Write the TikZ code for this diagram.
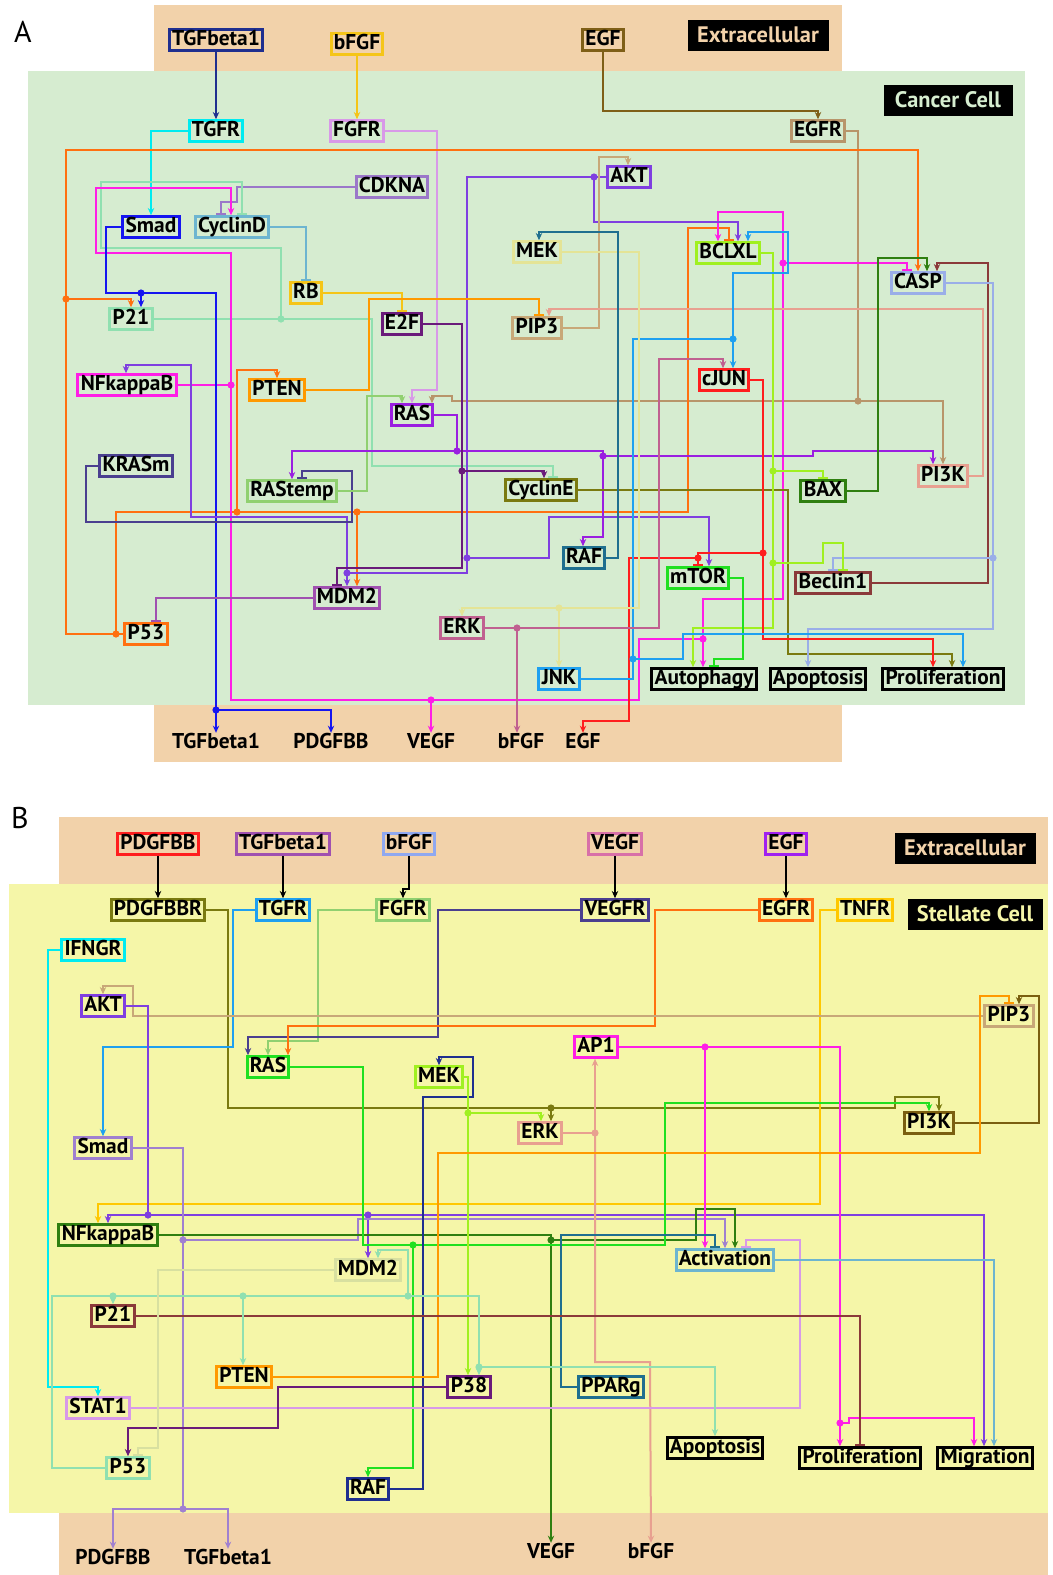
\documentclass[tikz,border=0pt]{standalone}
\usepackage{fontspec}
\setmainfont{PT Sans}
\usetikzlibrary{arrows.meta}
% backgrounds
\definecolor{cpeach}{RGB}{242,210,170}
\definecolor{cgreenbg}{RGB}{214,236,208}
\definecolor{cyellowbg}{RGB}{245,246,168}
\definecolor{cgreentxt}{RGB}{214,237,208}
% node / edge colours
\definecolor{cdkblue}{RGB}{31,47,143}
\definecolor{cgold}{RGB}{245,197,24}
\definecolor{cbrown}{RGB}{127,95,23}
\definecolor{ccyan}{RGB}{0,235,240}
\definecolor{clilac}{RGB}{216,153,232}
\definecolor{ctan}{RGB}{184,149,106}
\definecolor{ckna}{RGB}{155,119,201}
\definecolor{cblue}{RGB}{21,21,240}
\definecolor{csteel}{RGB}{109,181,208}
\definecolor{cviolet}{RGB}{127,63,224}
\definecolor{cpale}{RGB}{228,228,150}
\definecolor{clime}{RGB}{160,240,32}
\definecolor{cmint}{RGB}{144,224,176}
\definecolor{cplum}{RGB}{106,27,122}
\definecolor{cpip}{RGB}{200,168,120}
\definecolor{ccasp}{RGB}{154,174,232}
\definecolor{cred}{RGB}{255,30,30}
\definecolor{cmag}{RGB}{255,30,230}
\definecolor{corange}{RGB}{255,153,0}
\definecolor{cras}{RGB}{154,31,224}
\definecolor{cslate}{RGB}{74,63,143}
\definecolor{clgreen}{RGB}{144,208,112}
\definecolor{colive}{RGB}{122,122,16}
\definecolor{cgreen}{RGB}{47,127,16}
\definecolor{csalmon}{RGB}{232,160,144}
\definecolor{cteal}{RGB}{31,111,143}
\definecolor{cneon}{RGB}{32,224,32}
\definecolor{cbeclin}{RGB}{139,58,58}
\definecolor{cmdm}{RGB}{160,80,176}
\definecolor{cerk}{RGB}{192,96,144}
\definecolor{cp53}{RGB}{255,112,16}
\definecolor{csky}{RGB}{30,160,240}
\definecolor{cbfgf}{RGB}{143,168,240}
\definecolor{cvegf}{RGB}{216,112,168}
\definecolor{cegf}{RGB}{160,32,240}
\definecolor{ctnfr}{RGB}{255,200,0}
\definecolor{cpi3k}{RGB}{122,95,16}
\definecolor{csmad}{RGB}{160,128,208}
\definecolor{cmdmb}{RGB}{216,224,160}
\newcommand{\genefont}{\fontsize{10.7}{12}\selectfont\bfseries}
\newcommand{\zonefont}{\fontsize{11.2}{13}\selectfont\bfseries}
\newcommand{\jdot}[2]{\fill[#1] (#2) circle (1.8pt);}
\tikzset{
  gene/.style={draw, line width=1.5pt, font=\genefont, inner xsep=1.4pt,
    inner ysep=0.2pt, text height=7.8pt, text depth=2.1pt},
  outbox/.style={gene, draw=black},
  outtext/.style={font=\genefont, inner sep=0pt},
  zone/.style={fill=black, font=\zonefont, minimum height=15.5pt, inner xsep=0pt},
  panel/.style={font=\fontsize{15}{17}\selectfont, inner sep=0pt},
  act/.style={-{Stealth[length=3.6pt,width=3.2pt]}, line width=1pt},
  inh/.style={-{Bar[width=5pt]}, line width=1pt},
  ln/.style={line width=1pt}
}

\begin{document}
\begin{tikzpicture}[x=0.5pt, y=-0.5pt]
  \useasboundingbox (0,0) rectangle (1053,1575);
  % ================= panel A =================
  \fill[cpeach] (154,5) rectangle (842,71);
  \fill[cpeach] (154,705) rectangle (842,762);
  \fill[cgreenbg] (28,71) rectangle (1025,705);
  \node[panel] (lblA) at (23,32) {A};
  \node[zone, text=cpeach, minimum width=70.5pt] (aExtra) at (758,35) {Extracellular};
  \node[zone, text=cgreentxt, minimum width=64.5pt] (aCell) at (948,100) {Cancer Cell};
  % genes
  \node[gene, draw=cdkblue] (aTGFb) at (216,40) {TGFbeta1};
  \node[gene, draw=cgold] (abFGF) at (357,44) {bFGF};
  \node[gene, draw=cbrown] (aEGF) at (603,40) {EGF};
  \node[gene, draw=ccyan] (aTGFR) at (216,131) {TGFR};
  \node[gene, draw=clilac] (aFGFR) at (357,131) {FGFR};
  \node[gene, draw=ctan] (aEGFR) at (818,131) {EGFR};
  \node[gene, draw=ckna] (aCDKNA) at (392,187) {CDKNA};
  \node[gene, draw=cblue] (aSmad) at (151,227) {Smad};
  \node[gene, draw=csteel] (aCycD) at (232,227) {CyclinD};
  \node[gene, draw=cviolet] (aAKT) at (629,177) {AKT};
  \node[gene, draw=cpale] (aMEK) at (537,252) {MEK};
  \node[gene, draw=clime] (aBCLXL) at (728,253) {BCLXL};
  \node[gene, draw=cgold] (aRB) at (306,293) {RB};
  \node[gene, draw=cmint] (aP21) at (131,319) {P21};
  \node[gene, draw=cplum] (aE2F) at (402,324) {E2F};
  \node[gene, draw=cpip] (aPIP3) at (537,328) {PIP3};
  \node[gene, draw=ccasp] (aCASP) at (918,283) {CASP};
  \node[gene, draw=cred] (acJUN) at (724,380) {cJUN};
  \node[gene, draw=cmag] (aNFkB) at (127,385) {NFkappaB};
  \node[gene, draw=corange] (aPTEN) at (277,390) {PTEN};
  \node[gene, draw=cras] (aRAS) at (412,415) {RAS};
  \node[gene, draw=cslate] (aKRASm) at (136,466) {KRASm};
  \node[gene, draw=clgreen] (aRAStemp) at (292,491) {RAStemp};
  \node[gene, draw=colive] (aCycE) at (541,490) {CyclinE};
  \node[gene, draw=cgreen] (aBAX) at (823,491) {BAX};
  \node[gene, draw=csalmon] (aPI3K) at (943,476) {PI3K};
  \node[gene, draw=cteal] (aRAF) at (584,558) {RAF};
  \node[gene, draw=cneon] (amTOR) at (698,578) {mTOR};
  \node[gene, draw=cbeclin] (aBeclin) at (833,583) {Beclin1};
  \node[gene, draw=cmdm] (aMDM2) at (347,598) {MDM2};
  \node[gene, draw=cerk] (aERK) at (462,628) {ERK};
  \node[gene, draw=cp53] (aP53) at (146,634) {P53};
  \node[gene, draw=csky] (aJNK) at (559,679) {JNK};
  \node[outbox] (aAuto) at (704,679) {Autophagy};
  \node[outbox] (aApop) at (818,679) {Apoptosis};
  \node[outbox] (aProl) at (943,679) {Proliferation};
  % secreted
  \node[outtext] (aoTGFb) at (216,741) {TGFbeta1};
  \node[outtext] (aoPDGF) at (331,741) {PDGFBB};
  \node[outtext] (aoVEGF) at (431,741) {VEGF};
  \node[outtext] (aobFGF) at (521,741) {bFGF};
  \node[outtext] (aoEGF) at (583,741) {EGF};
  % ligands to receptors
  \draw[act, cdkblue] (aTGFb.south) -- (aTGFR.north);
  \draw[act, cgold] (abFGF.south) -- (aFGFR.north);
  \draw[act, cbrown] (aEGF.south) |- (818,111) -- (aEGFR.north);
  \draw[act, ccyan] (aTGFR.west) -| (aSmad.north);
  \draw[act, clilac] (aFGFR.east) -| (437,390) -| (412,0 |- aRAS.north);
  \draw[act, ctan] (aEGFR.east) -| (858,401) -| (aPI3K.north);
  \draw[act, ctan] (858,401) -- (452,401) -- (452,396) -| (432,0 |- aRAS.north);
  \jdot{ctan}{858,401}
  % P53
  \draw[act, cp53] (aP53.west) -| (66,150) -| (918,0 |- aCASP.north);
  \draw[act, cp53] (66,299) -| (131,0 |- aP21.north);
  \jdot{cp53}{66,299}
  \draw[inh, cp53] (116,634) |- (688,512) |- (729,228) -- (729,0 |- aBCLXL.north);
  \jdot{cp53}{116,634}
  \draw[act, cp53] (237,512) |- (277,370) -- (aPTEN.north);
  \jdot{cp53}{237,512}
  \draw[act, cp53] (357,512) -- (357,0 |- aMDM2.north);
  \jdot{cp53}{357,512}
  % cell cycle
  \draw[inh, ckna] (aCDKNA.west) -| (237,202) -| (221,0 |- aCycD.north);
  \draw[inh, cmint] (aP21.east) -| (372,466) -| (553,0 |- aCycE.north);
  \draw[inh, cmint] (281,319) |- (101,248) |- (242,182) -- (242,0 |- aCycD.north);
  \jdot{cmint}{281,319}
  \draw[inh, csteel] (aCycD.east) -| (aRB.north);
  \draw[inh, cgold] (aRB.east) -| (aE2F.north);
  % NFkappaB
  \draw[act, cmag] (aNFkB.east) -| (231,253) -| (96,188) -| (231,0 |- aCycD.north);
  \jdot{cmag}{231,385}
  \draw[ln, cmag] (231,385) |- (639,700) |- (703,639);
  \draw[act, cmag] (431,700) -- (aoVEGF.north);
  \jdot{cmag}{431,700}
  \draw[act, cmag] (703,639) -- (703,0 |- aAuto.north);
  \jdot{cmag}{703,639}
  \draw[ln, cmag] (703,639) |- (783,599) -- (783,263);
  \jdot{cmag}{783,263}
  \draw[inh, cmag] (783,263) -| (907,0 |- aCASP.north);
  \draw[act, cmag] (783,263) |- (718,212) -- (718,0 |- aBCLXL.north);
  % Smad
  \draw[act, cblue] (aSmad.west) -| (106,293) -| (141,0 |- aP21.north);
  \jdot{cblue}{141,293}
  \draw[act, cblue] (141,293) -| (216,710) -- (aoTGFb.north);
  \jdot{cblue}{216,710}
  \draw[act, cblue] (216,710) -| (aoPDGF.north);
  % AKT
  \draw[ln, cviolet] (aAKT.west) -| (467,558);
  \jdot{cviolet}{594,177}
  \draw[act, cviolet] (594,177) |- (738,222) -- (738,0 |- aBCLXL.north);
  \jdot{cviolet}{467,558}
  \draw[act, cviolet] (467,558) -| (549,517) -| (709,0 |- amTOR.north);
  \draw[ln, cviolet] (467,558) |- (347,573);
  \jdot{cviolet}{347,573}
  \draw[act, cviolet] (347,573) -- (347,0 |- aMDM2.north);
  \draw[act, cviolet] (347,573) |- (191,517) |- (126,365) -- (126,0 |- aNFkB.north);
  % RAS module
  \draw[inh, cslate] (aKRASm.west) -| (86,522) -| (352,471) -| (302,0 |- aRAStemp.north);
  \draw[act, clgreen] (aRAStemp.east) -| (367,396) -| (402,0 |- aRAS.north);
  \draw[inh, corange] (aPTEN.east) -| (369,299) -| (539,0 |- aPIP3.north);
  \draw[act, cpip] (aPIP3.east) -| (599,157) -| (628,0 |- aAKT.north);
  \draw[act, csalmon] (aPI3K.east) -| (983,309) -| (549,0 |- aPIP3.north);
  \draw[ln, cras] (aRAS.east) -| (457,451);
  \jdot{cras}{457,451}
  \draw[act, cras] (457,451) -| (292,0 |- aRAStemp.north);
  \draw[ln, cras] (457,451) -| (603,456);
  \jdot{cras}{603,456}
  \draw[act, cras] (603,456) -| (813,451) -| (933,0 |- aPI3K.north);
  \draw[act, cras] (603,456) |- (583,537) -- (583,0 |- aRAF.north);
  % E2F
  \draw[ln, cplum] (aE2F.east) -| (462,471);
  \jdot{cplum}{462,471}
  \draw[act, cplum] (462,471) -| (544,0 |- aCycE.north);
  \draw[inh, cplum] (462,471) |- (337,568) -- (337,0 |- aMDM2.north);
  \draw[inh, cmdm] (aMDM2.west) -| (156,0 |- aP53.north);
  \draw[act, colive] (aCycE.east) -| (788,654) -| (952,0 |- aProl.north);
  % apoptosis module
  \draw[act, cgreen] (aBAX.east) -| (878,258) -| (927,0 |- aCASP.north);
  \draw[act, cbeclin] (aBeclin.east) -| (988,263) -| (937,0 |- aCASP.north);
  \draw[ln, ccasp] (aCASP.east) -| (993,558);
  \jdot{ccasp}{993,558}
  \draw[inh, ccasp] (993,558) -| (833,0 |- aBeclin.north);
  \draw[act, ccasp] (993,558) |- (808,629) -- (808,0 |- aApop.north);
  \draw[ln, clime] (aBCLXL.east) -| (773,563);
  \jdot{clime}{773,471}
  \draw[inh, clime] (773,471) -| (823,0 |- aBAX.north);
  \jdot{clime}{773,563}
  \draw[inh, clime] (773,563) -| (823,543) -| (843,0 |- aBeclin.north);
  \draw[act, clime] (773,563) |- (693,628) -- (693,0 |- aAuto.north);
  \draw[inh, cneon] (amTOR.east) -| (743,659) -| (714,0 |- aAuto.north);
  % cJUN
  \draw[ln, cred] (acJUN.east) -| (763,553);
  \jdot{cred}{763,553}
  \draw[ln, cred] (763,553) -| (698,558);
  \jdot{cred}{698,558}
  \draw[inh, cred] (698,558) -- (698,0 |- amTOR.north);
  \draw[act, cred] (698,558) -| (629,721) -| (aoEGF.north);
  \draw[act, cred] (763,553) |- (933,639) -- (933,0 |- aProl.north);
  % JNK
  \draw[ln, csky] (aJNK.east) -| (633,659);
  \jdot{csky}{633,659}
  \draw[act, csky] (633,659) -| (683,634) -| (963,0 |- aProl.north);
  \draw[ln, csky] (633,659) |- (733,339);
  \jdot{csky}{733,339}
  \draw[act, csky] (733,339) -- (733,0 |- acJUN.north);
  \draw[act, csky] (733,339) |- (788,273) |- (748,232) -- (748,0 |- aBCLXL.north);
  % MAPK
  \draw[act, cpale] (aMEK.east) -| (639,608) -| (aERK.north);
  \jdot{cpale}{559,608}
  \draw[act, cpale] (559,608) -- (aJNK.north);
  \draw[act, cteal] (aRAF.east) -| (618,232) -| (539,0 |- aMEK.north);
  \draw[act, cerk] (aERK.east) -| (517,0 |- aobFGF.north);
  \jdot{cerk}{517,628}
  \draw[act, cerk] (517,628) -| (659,359) -| (723,0 |- acJUN.north);

  % ================= panel B =================
  \fill[cpeach] (59,817) rectangle (1048,884);
  \fill[cyellowbg] (9,884) rectangle (1048,1513);
  \fill[cpeach] (59,1513) rectangle (1048,1575);
  \node[panel] (lblB) at (20,818) {B};
  \node[zone, text=cpeach, minimum width=70.5pt] (bExtra) at (965,848) {Extracellular};
  \node[zone, text=cyellowbg, minimum width=67.5pt] (bCell) at (975,914) {Stellate Cell};
  % genes
  \node[gene, draw=cred] (bPDGF) at (158,844) {PDGFBB};
  \node[gene, draw=cmdm] (bTGFb) at (283,844) {TGFbeta1};
  \node[gene, draw=cbfgf] (bbFGF) at (409,844) {bFGF};
  \node[gene, draw=cvegf] (bVEGF) at (615,844) {VEGF};
  \node[gene, draw=cegf] (bEGF) at (786,844) {EGF};
  \node[gene, draw=colive] (bPDGFR) at (158,910) {PDGFBBR};
  \node[gene, draw=csky] (bTGFR) at (283,910) {TGFR};
  \node[gene, draw=clgreen] (bFGFR) at (403,910) {FGFR};
  \node[gene, draw=cslate] (bVEGFR) at (615,910) {VEGFR};
  \node[gene, draw=cp53] (bEGFR) at (786,910) {EGFR};
  \node[gene, draw=ctnfr] (bTNFR) at (865,910) {TNFR};
  \node[gene, draw=ccyan] (bIFNGR) at (93,950) {IFNGR};
  \node[gene, draw=cviolet] (bAKT) at (103,1006) {AKT};
  \node[gene, draw=cpip] (bPIP3) at (1009,1016) {PIP3};
  \node[gene, draw=cneon] (bRAS) at (268,1067) {RAS};
  \node[gene, draw=cmag] (bAP1) at (596,1047) {AP1};
  \node[gene, draw=clime] (bMEK) at (439,1077) {MEK};
  \node[gene, draw=cpi3k] (bPI3K) at (929,1123) {PI3K};
  \node[gene, draw=csalmon] (bERK) at (540,1133) {ERK};
  \node[gene, draw=csmad] (bSmad) at (103,1148) {Smad};
  \node[gene, draw=cgreen] (bNFkB) at (108,1235) {NFkappaB};
  \node[gene, draw=csteel] (bAct) at (725,1260) {Activation};
  \node[gene, draw=cmdmb] (bMDM2) at (368,1270) {MDM2};
  \node[gene, draw=cbeclin] (bP21) at (113,1316) {P21};
  \node[gene, draw=corange] (bPTEN) at (244,1377) {PTEN};
  \node[gene, draw=cplum] (bP38) at (469,1387) {P38};
  \node[gene, draw=clilac] (bSTAT1) at (98,1408) {STAT1};
  \node[gene, draw=cteal] (bPPARg) at (611,1387) {PPARg};
  \node[outbox] (bApop) at (715,1448) {Apoptosis};
  \node[outbox] (bProl) at (860,1458) {Proliferation};
  \node[outbox] (bMigr) at (985,1458) {Migration};
  \node[gene, draw=cmint] (bP53) at (128,1468) {P53};
  \node[gene, draw=cdkblue] (bRAF) at (368,1489) {RAF};
  % secreted
  \node[outtext] (boPDGF) at (113,1557) {PDGFBB};
  \node[outtext] (boTGFb) at (228,1557) {TGFbeta1};
  \node[outtext] (boVEGF) at (551,1551) {VEGF};
  \node[outtext] (bobFGF) at (651,1551) {bFGF};
  % ligands to receptors
  \draw[act] (bPDGF.south) -- (bPDGFR.north);
  \draw[act] (bTGFb.south) -- (bTGFR.north);
  \draw[act] (bbFGF.south) |- (403,889) -- (bFGFR.north);
  \draw[act] (bVEGF.south) -- (bVEGFR.north);
  \draw[act] (bEGF.south) -- (bEGFR.north);
  % receptors
  \draw[ln, colive] (bPDGFR.east) -| (228,1108) -- (551,1108);
  \jdot{colive}{551,1108}
  \draw[act, colive] (551,1108) -- (551,0 |- bERK.north);
  \draw[act, colive] (551,1108) -| (895,1097) -| (939,0 |- bPI3K.north);
  \draw[act, csky] (bTGFR.west) -| (233,1047) -| (bSmad.north);
  \draw[act, clgreen] (bFGFR.west) -| (318,1041) -| (bRAS.north);
  \draw[act, cslate] (bVEGFR.west) -| (438,1037) -| (248,0 |- bRAS.north);
  \draw[act, cp53] (bEGFR.west) -| (655,1026) -| (288,0 |- bRAS.north);
  \draw[act, ctnfr] (bTNFR.west) -| (820,1204) -| (98,0 |- bNFkB.north);
  \draw[act, ccyan] (bIFNGR.west) -| (48,1387) -| (bSTAT1.north);
  % AKT
  \draw[act, cpip] (bPIP3.west) -| (133,986) -| (bAKT.north);
  \draw[ln, cviolet] (bAKT.east) -| (148,1215);
  \jdot{cviolet}{148,1215}
  \draw[act, cviolet] (148,1215) -| (bNFkB.north);
  \draw[act, cviolet] (148,1215) -| (984,0 |- bMigr.north);
  \jdot{cviolet}{368,1215}
  \draw[act, cviolet] (368,1215) -- (bMDM2.north);
  % Smad
  \draw[ln, csmad] (bSmad.east) -| (183,1240);
  \jdot{csmad}{183,1240}
  \draw[act, csmad] (183,1240) -| (358,1219) -| (bAct.north);
  \draw[ln, csmad] (183,1240) -- (183,1509);
  \jdot{csmad}{183,1509}
  \draw[act, csmad] (183,1509) -| (boPDGF.north);
  \draw[act, csmad] (183,1509) -| (boTGFb.north);
  % NFkappaB
  \draw[ln, cgreen] (bNFkB.east) -| (551,1240);
  \jdot{cgreen}{551,1240}
  \draw[act, cgreen] (551,1240) -- (boVEGF.north);
  \draw[act, cgreen] (551,1240) -| (696,1209) -| (735,0 |- bAct.north);
  % RAS / MAPK
  \draw[ln, cneon] (bRAS.east) -| (363,1245) -- (413,1245);
  \jdot{cneon}{413,1245}
  \draw[act, cneon] (413,1245) |- (368,1468) -- (bRAF.north);
  \draw[act, cneon] (413,1245) -| (665,1103) -| (929,0 |- bPI3K.north);
  \draw[act, cdkblue] (bRAF.east) -| (423,1097) -| (473,1057) -| (bMEK.north);
  \draw[ln, clime] (bMEK.east) -| (468,1113);
  \jdot{clime}{468,1113}
  \draw[act, clime] (468,1113) -| (541,0 |- bERK.north);
  \draw[act, clime] (468,1113) -- (468,0 |- bP38.north);
  \draw[ln, csalmon] (bERK.east) -- (595,1133);
  \jdot{csalmon}{595,1133}
  \draw[act, csalmon] (595,1133) -- (595,0 |- bAP1.south);
  \draw[act, csalmon] (595,1133) |- (650,1362) -- (bobFGF.north);
  % AP1
  \draw[ln, cmag] (bAP1.east) -- (705,1047);
  \jdot{cmag}{705,1047}
  \draw[act, cmag] (705,1047) -- (705,0 |- bAct.north);
  \draw[ln, cmag] (705,1047) -| (840,1423);
  \jdot{cmag}{840,1423}
  \draw[act, cmag] (840,1423) -- (840,0 |- bProl.north);
  \draw[act, cmag] (840,1423) -| (849,1418) -| (974,0 |- bMigr.north);
  % PIP3
  \draw[act, cpi3k] (bPI3K.east) -| (1039,996) -| (1019,0 |- bPIP3.north);
  \draw[inh, corange] (bPTEN.east) -| (438,1153) -| (980,996) -| (1009,0 |- bPIP3.north);
  % activation and outputs
  \draw[inh, cteal] (bPPARg.west) -| (561,1235) -| (715,0 |- bAct.north);
  \draw[inh, clilac] (bSTAT1.east) -| (800,1240) -| (746,0 |- bAct.north);
  \draw[act, csteel] (bAct.east) -| (994,0 |- bMigr.north);
  \draw[inh, cbeclin] (bP21.east) -| (860,0 |- bProl.north);
  \draw[act, cplum] (bP38.west) -| (278,1428) -| (bP53.north);
  % P53
  \draw[ln, cmint] (bP53.west) -| (52,1296) -| (479,1367);
  \jdot{cmint}{113,1296}
  \draw[act, cmint] (113,1296) -- (bP21.north);
  \jdot{cmint}{243,1296}
  \draw[act, cmint] (243,1296) -- (243,0 |- bPTEN.north);
  \jdot{cmint}{408,1296}
  \draw[act, cmint] (408,1296) |- (378,1250) -- (378,0 |- bMDM2.north);
  \jdot{cmint}{479,1367}
  \draw[act, cmint] (479,1367) -- (479,0 |- bP38.north);
  \draw[act, cmint] (479,1367) -| (bApop.north);
  \draw[inh, cmdmb] (bMDM2.west) -| (158,1448) -| (138,0 |- bP53.north);
\end{tikzpicture}
\end{document}
